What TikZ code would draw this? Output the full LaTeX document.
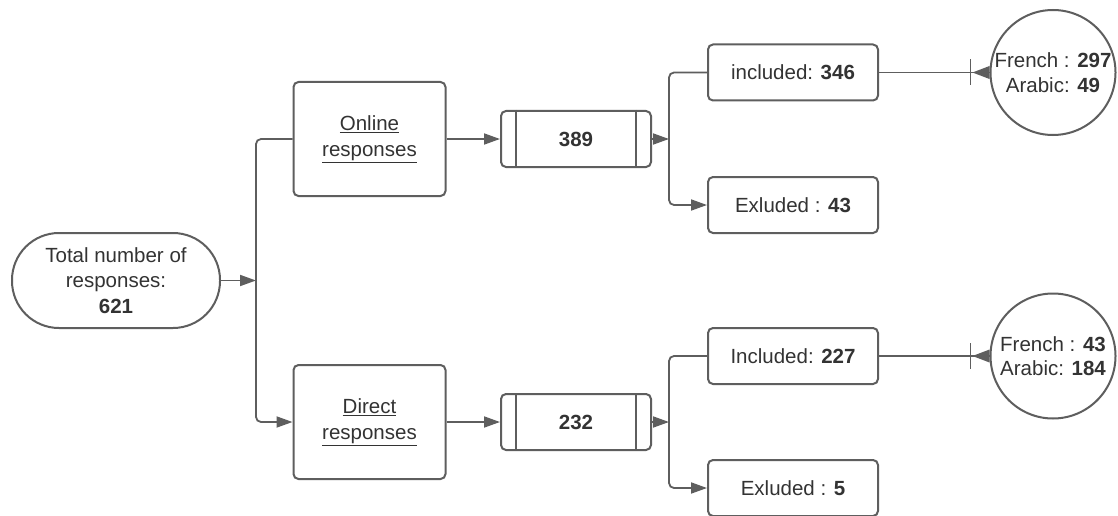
\documentclass[tikz,border=0pt]{standalone}
\usepackage{fontspec}
\setmainfont{Liberation Sans}
\usetikzlibrary{arrows.meta}
\definecolor{linec}{HTML}{5E5E5E}
\definecolor{textc}{HTML}{333333}
\tikzset{
  base/.style={draw=linec, line width=2pt, text=textc, align=center, inner sep=0pt,
    font=\fontsize{20.5}{25.5}\selectfont},
  stadium/.style={base, rounded corners=47pt, minimum width=208pt, minimum height=95pt},
  srcbox/.style={base, rounded corners=5pt, minimum width=152pt, minimum height=114pt},
  numbox/.style={base, rounded corners=5pt, minimum width=150pt, minimum height=56pt},
  resbox/.style={base, rounded corners=5pt, minimum width=170pt, minimum height=56pt},
  langcirc/.style={base, circle, minimum size=125pt, font=\fontsize{20.5}{24.5}\selectfont},
  conn/.style={draw=linec, line width=1.8pt, rounded corners=5pt},
  arr/.style={conn, -{Triangle[length=16pt,width=11pt]}},
}
\begin{document}
\begin{tikzpicture}[x=1pt,y=-1pt]
\useasboundingbox (0,0) rectangle (1118,516);
\fill[white] (0,0) rectangle (1118,516);

\node[stadium] (total) at (116,280.5) {Total number of\\responses:\\\textbf{621}};

\node[srcbox] (online) at (369.5,139) {\raisebox{2pt}{\underline{Online}}\\\raisebox{2pt}{\underline{responses}}};
\node[srcbox] (direct) at (369.5,422) {\raisebox{2pt}{\underline{Direct}}\\\raisebox{2pt}{\underline{responses}}};

\node[numbox] (n389) at (576,139) {\textbf{389}};
\node[numbox] (n232) at (576,422) {\textbf{232}};
\foreach \n in {n389,n232}{
  \draw[draw=linec, line width=2pt] ([xshift=16pt]\n.north west) -- ([xshift=16pt]\n.south west);
  \draw[draw=linec, line width=2pt] ([xshift=-16pt]\n.north east) -- ([xshift=-16pt]\n.south east);
}

\node[resbox] (inc1) at (793,72.5) {included: \textbf{346}};
\node[resbox] (exc1) at (793,205) {Exluded : \textbf{43}};
\node[resbox] (inc2) at (793,356) {Included: \textbf{227}};
\node[resbox] (exc2) at (793,488) {Exluded : \textbf{5}};

\node[langcirc] (c1) at (1053,72.5) {French : \textbf{297}\\Arabic: \textbf{49}};
\node[langcirc] (c2) at (1053,356) {French : \textbf{43}\\Arabic: \textbf{184}};

\coordinate (j0) at (256,280.5);
\coordinate (j1) at (669,139);
\coordinate (j2) at (669,422);

\draw[arr] (total.east) -- (j0);
\draw[arr] (online.west) -| (j0) |- (direct.west);

\draw[arr] (online.east) -- (n389.west);
\draw[arr] (direct.east) -- (n232.west);
\draw[arr] (n389.east) -- (j1);
\draw[arr] (n232.east) -- (j2);

\draw[arr] (inc1.west) -| (j1) |- (exc1.west);
\draw[arr] (inc2.west) -| (j2) |- (exc2.west);

\foreach \s/\c in {inc1/c1,inc2/c2}{
  \draw[conn] (\s.east) -- (\c.west);
  \draw[draw=linec, line width=1.8pt] ([xshift=-19pt]\c.west) ++(0,-13) -- ++(0,26);
  \fill[linec] ([xshift=-17pt]\c.west) -- ++(17,-6.5) -- ++(0,13) -- cycle;
}
\end{tikzpicture}
\end{document}
